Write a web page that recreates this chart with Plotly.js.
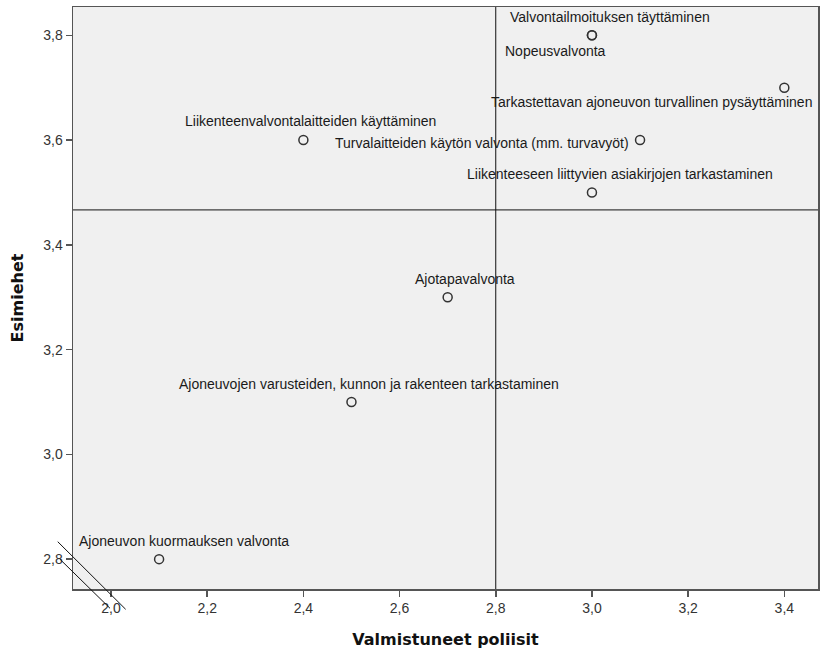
<!DOCTYPE html>
<html>
<head>
<meta charset="utf-8">
<script src="https://cdn.plot.ly/plotly-3.0.1.min.js"></script>
<style>html,body{margin:0;padding:0;background:#fff;}#chart{width:828px;height:656px;}</style>
</head>
<body>
<div id="chart"></div>
<script>
const labels = [
  "Valvontailmoituksen täyttäminen",
  "Nopeusvalvonta",
  "Tarkastettavan ajoneuvon turvallinen pysäyttäminen",
  "Liikenteenvalvontalaitteiden käyttäminen",
  "Turvalaitteiden käytön valvonta (mm. turvavyöt)",
  "Liikenteeseen liittyvien asiakirjojen tarkastaminen",
  "Ajotapavalvonta",
  "Ajoneuvojen varusteiden, kunnon ja rakenteen tarkastaminen",
  "Ajoneuvon kuormauksen valvonta"
];
const valmistuneet = [3.0, 3.0, 3.4, 2.4, 3.1, 3.0, 2.7, 2.5, 2.1];
const esimiehet   = [3.8, 3.8, 3.7, 3.6, 3.6, 3.5, 3.3, 3.1, 2.8];
// label offsets in pixels (placement only)
const labelDX = [18, -36, -133, 7, -158, 28, 17, 18, 25];
const labelDY = [18, -16, -14, 19, -3, 18, 18, 18, 18];

const meanX = valmistuneet.reduce((a,b)=>a+b,0)/valmistuneet.length;
const meanY = esimiehet.reduce((a,b)=>a+b,0)/esimiehet.length;

const trace = {
  x: valmistuneet, y: esimiehet, mode: 'markers', type: 'scatter',
  marker: {symbol: 'circle-open', size: 9, color: '#333', line: {width: 1.5, color: '#333'}},
  hoverinfo: 'text', text: labels, cliponaxis: false
};

const annotations = labels.map((t,i)=>({
  x: valmistuneet[i], y: esimiehet[i], xref: 'x', yref: 'y', text: t,
  showarrow: false, xshift: labelDX[i], yshift: labelDY[i],
  font: {family: 'Liberation Sans, Arial, sans-serif', size: 14, color: '#1a1a1a'},
  xanchor: 'center', yanchor: 'middle'
}));

const axisFont = {family: 'Liberation Sans, Arial, sans-serif', size: 14, color: '#333'};
const titleFont = {family: 'DejaVu Sans, sans-serif', size: 16, color: '#111', weight: 'bold'};

const layout = {
  width: 828, height: 656,
  margin: {l: 73, r: 10, t: 7, b: 67},
  paper_bgcolor: '#fff', plot_bgcolor: '#f0f0f0',
  showlegend: false,
  separators: ', ',
  xaxis: {
    range: [1.921, 3.470], tick0: 2.0, dtick: 0.2, tickformat: '.1f',
    showgrid: false, zeroline: false, showline: true, mirror: true,
    linecolor: '#555', linewidth: 1.5, ticks: 'outside', ticklen: 6, tickcolor: '#555', tickwidth: 1.5,
    tickfont: axisFont,
    title: {text: '<b>Valmistuneet poliisit</b>', font: titleFont, standoff: 18}
  },
  yaxis: {
    range: [2.743, 3.854], tick0: 2.0, dtick: 0.2, tickformat: '.1f',
    showgrid: false, zeroline: false, showline: true, mirror: true,
    linecolor: '#555', linewidth: 1.5, ticks: 'outside', ticklen: 6, tickcolor: '#555', tickwidth: 1.5,
    tickfont: axisFont,
    title: {text: '<b>Esimiehet</b>', font: titleFont, standoff: 15}
  },
  shapes: [
    {type: 'line', xref: 'x', yref: 'paper', x0: meanX, x1: meanX, y0: 0, y1: 1, line: {color: '#111', width: 1}},
    {type: 'line', xref: 'paper', yref: 'y', x0: 0, x1: 1, y0: meanY, y1: meanY, line: {color: '#111', width: 1}},
    {type: 'line', xref: 'paper', yref: 'paper', x0: -0.0205, y0: 0.0813, x1: 0.0707, y1: -0.0349, line: {color: '#111', width: 1}},
    {type: 'line', xref: 'paper', yref: 'paper', x0: -0.0174, y0: 0.051, x1: 0.0497, y1: -0.0332, line: {color: '#111', width: 1}}
  ],
  annotations: annotations
};

Plotly.newPlot('chart', [trace], layout, {displayModeBar: false, staticPlot: true});
</script>
</body>
</html>
